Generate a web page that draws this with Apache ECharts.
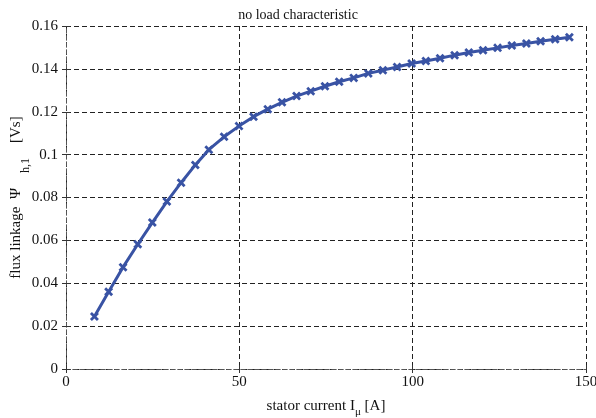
<!DOCTYPE html>
<html><head><meta charset="utf-8">
<script src="https://cdn.jsdelivr.net/npm/echarts@6/dist/echarts.min.js"></script>
<style>html,body{margin:0;padding:0;background:#fff}#c{width:596px;height:418px}</style>
</head><body><div id="c"></div>
<script>
const current = [8.2, 12.3, 16.45, 20.7, 24.9, 29.1, 33.2, 37.3, 41.2, 45.6, 49.9, 54.1, 58.2, 62.3, 66.5, 70.6, 74.7, 78.8, 83.0, 87.2, 91.4, 95.5, 99.7, 103.8, 107.9, 112.1, 116.2, 120.3, 124.5, 128.6, 132.8, 136.9, 141.1, 145.2];
const flux = [0.0245, 0.036, 0.0475, 0.0582, 0.0683, 0.0781, 0.0869, 0.0952, 0.1023, 0.1083, 0.1133, 0.1177, 0.1212, 0.1244, 0.1273, 0.1296, 0.1319, 0.134, 0.1358, 0.1379, 0.1394, 0.1409, 0.1425, 0.1437, 0.145, 0.1464, 0.1476, 0.1487, 0.1498, 0.1509, 0.1518, 0.1529, 0.1538, 0.1548];
const xTicks = [0, 50, 100, 150];
const yTicks = [0, 0.02, 0.04, 0.06, 0.08, 0.1, 0.12, 0.14, 0.16];

const font = 'Liberation Serif';
const frame = {show:true, lineStyle:{color:'#555', type:[4,3], width:1}};
const grid = {show:true, lineStyle:{color:'#222', type:[5,3], width:1}};
const data = current.map((x,i)=>[x, flux[i]]);
const chart = echarts.init(document.getElementById('c'));
chart.setOption({
  animation:false,
  title:{text:'no load characteristic', left:'center', top:3, textStyle:{fontFamily:font, fontSize:14, fontWeight:'normal', color:'#111'}},
  grid:{left:66, right:10, top:26, bottom:49, outerBoundsMode:'none', containLabel:false},
  xAxis:[{
    type:'value', min:0, max:150, interval:50,
    axisLine:frame, axisTick:{show:true, inside:true, length:4, lineStyle:{color:'#333'}},
    splitLine:grid,
    axisLabel:{fontFamily:font, fontSize:15, color:'#111', margin:6, formatter:v=>xTicks.includes(v)?String(v):''},
    name:'stator current I{sub|μ} [A]', nameLocation:'middle', nameGap:26, nameMoveOverlap:false,
    nameTextStyle:{fontFamily:font, fontSize:15, color:'#111', rich:{sub:{fontFamily:font, fontSize:11, color:'#111', padding:[12,0,0,0]}}}
  },{
    type:'value', position:'top', min:0, max:150, interval:50,
    axisLine:frame, axisTick:{show:true, inside:true, length:4, lineStyle:{color:'#333'}},
    axisLabel:{show:false}, splitLine:{show:false}
  }],
  yAxis:[{
    type:'value', min:0, max:0.16, interval:0.02,
    axisLine:frame, axisTick:{show:true, inside:true, length:4, lineStyle:{color:'#333'}},
    splitLine:grid,
    axisLabel:{fontFamily:font, fontSize:15, color:'#111', margin:8, formatter:v=>{const t=yTicks.find(k=>Math.abs(k-v)<1e-9); return t===undefined?'':String(+t.toFixed(2));}},
    name:'flux linkage  Ψ    {sub|h,1}    [Vs]', nameLocation:'middle', nameGap:34, nameMoveOverlap:false,
    nameTextStyle:{fontFamily:font, fontSize:15, color:'#111', rich:{sub:{fontFamily:font, fontSize:12, color:'#111', padding:[20,0,0,0]}}}
  },{
    type:'value', position:'right', min:0, max:0.16, interval:0.02,
    axisLine:frame, axisTick:{show:true, inside:true, length:4, lineStyle:{color:'#333'}},
    axisLabel:{show:false}, splitLine:{show:false}
  }],
  series:[{
    type:'line', data:data, xAxisIndex:0, yAxisIndex:0,
    lineStyle:{color:'#3953a4', width:3},
    itemStyle:{color:'#3953a4'},
    symbol:'path://M0,2.2 L2.2,0 L5,2.8 L7.8,0 L10,2.2 L7.2,5 L10,7.8 L7.8,10 L5,7.2 L2.2,10 L0,7.8 L2.8,5 Z',
    symbolSize:9, showSymbol:true
  }]
});
</script></body></html>
